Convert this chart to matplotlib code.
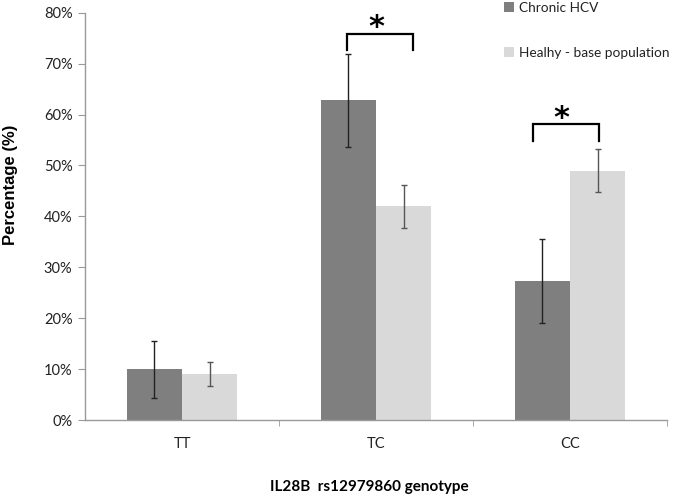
import matplotlib
matplotlib.use("Agg")
import matplotlib.pyplot as plt
import numpy as np
from matplotlib.patches import Patch
from matplotlib.ticker import PercentFormatter

categories = ["TT", "TC", "CC"]
series_names = ["Chronic HCV", "Healhy - base population"]
hcv = [10.0, 62.8, 27.3]
hcv_err = [5.6, 9.1, 8.3]
healthy = [9.0, 42.0, 49.0]
healthy_err = [2.4, 4.2, 4.2]
yticks = [0, 10, 20, 30, 40, 50, 60, 70, 80]

dark = "#7f7f7f"
light = "#d9d9d9"
font = "Lato"

fig = plt.figure(figsize=(6.75, 4.97), dpi=100)
ax = fig.add_axes([85/675, 77/497, 582/675, 407.3/497])

x = np.arange(len(categories))
w = 0.285
ax.bar(x - w/2, hcv, w, color=dark, zorder=2)
ax.bar(x + w/2, healthy, w, color=light, zorder=2)
ax.errorbar(x - w/2, hcv, yerr=hcv_err, fmt="none", ecolor="#222222",
            elinewidth=1, capsize=2.5, capthick=1, zorder=3)
ax.errorbar(x + w/2, healthy, yerr=healthy_err, fmt="none", ecolor="#555555",
            elinewidth=1, capsize=2.5, capthick=1, zorder=3)

ax.set_xlim(-0.5, 2.5)
ax.set_ylim(0, 80)
ax.set_yticks(yticks)
ax.yaxis.set_major_formatter(PercentFormatter(decimals=0))
ax.set_xticks(x)
ax.set_xticklabels(categories)
ax.set_xticks([0.5, 1.5, 2.5], minor=True)
ax.tick_params(axis="x", which="major", length=0, pad=12)
ax.tick_params(axis="x", which="minor", length=4, color="#999999", direction="out")
ax.tick_params(axis="y", length=5, color="#999999", direction="out", pad=4)
for lab in ax.get_xticklabels() + ax.get_yticklabels():
    lab.set_fontfamily(font)
    lab.set_fontsize(10.5)
    lab.set_color("#222222")

for s in ["top", "right"]:
    ax.spines[s].set_visible(False)
for s in ["left", "bottom"]:
    ax.spines[s].set_color("#999999")
    ax.spines[s].set_linewidth(1)

# significance brackets
def bracket(x0, x1, ytop, ybot, xs, ys):
    ax.plot([x0, x0, x1, x1], [ybot, ytop, ytop, ybot], color="black", lw=1.6,
            solid_joinstyle="miter", zorder=4, clip_on=False)
    ax.text(xs, ys, "*", ha="center", va="center", fontsize=22,
            fontweight="bold", fontfamily="DejaVu Sans", zorder=4, clip_on=False)

bracket(0.849, 1.192, 75.9, 72.7, 1.0, 77.0)
bracket(1.811, 2.151, 58.1, 54.8, 1.957, 59.2)

fig.text(11/675, 1 - 185/497, "Percentage (%)", rotation=90, ha="center", va="center",
         fontsize=12, fontweight="bold", fontfamily="Liberation Sans")
fig.text(369/675, 1 - 487/497, "IL28B  rs12979860 genotype", ha="center", va="center",
         fontsize=11, fontweight="bold", fontfamily=font)

handles = [Patch(facecolor=dark, edgecolor="none"), Patch(facecolor=light, edgecolor="none")]
leg = fig.legend(handles, series_names, loc="upper left",
                 bbox_to_anchor=(504/675, 1 - 2/497), frameon=False,
                 borderaxespad=0, borderpad=0,
                 labelspacing=2.4, handlelength=0.75, handleheight=0.75,
                 handletextpad=0.35, prop={"family": font, "size": 9.8})
for t in leg.get_texts():
    t.set_color("#222222")

fig.savefig("out.png", dpi=100)
